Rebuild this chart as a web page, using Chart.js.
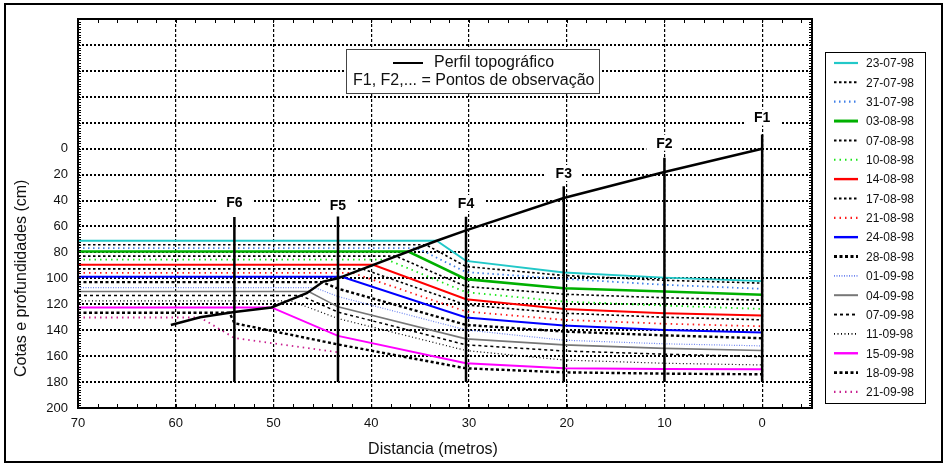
<!DOCTYPE html>
<html>
<head>
<meta charset="utf-8">
<script src="https://cdn.jsdelivr.net/npm/chart.js@4.4.0/dist/chart.umd.min.js"></script>
<style>
  body { margin: 0; background: #fff; }
</style>
</head>
<body>
<canvas id="grafico" width="947" height="465"></canvas>
<script>
// datas das medições
const datas = ['23-07-98', '27-07-98', '31-07-98', '03-08-98', '07-08-98', '10-08-98', '14-08-98', '17-08-98', '21-08-98',
  '24-08-98', '28-08-98', '01-09-98', '04-09-98', '07-09-98', '11-09-98', '15-09-98', '18-09-98', '21-09-98'];

// nível da água à esquerda (cm) e distância onde encontra o perfil (m)
const nivelEsquerda = [71.0, 74.1, 76.7, 79.3, 82.9, 85.5, 89.6, 92.7, 95.8, 98.8, 102.9, 107.1, 110.2, 113.3, 117.4, 122.4, 126.6, 130.2];
const distEncontro = [33.3, 34.4, 35.3, 36.2, 37.5, 38.4, 39.8, 40.9, 41.9, 43.0, 45.0, 45.8, 46.4, 47.2, 48.2, 50.2, 54.5, 57.5];

// profundidades nos pontos de observação (cm)
const nivelF6 = [null, null, null, null, null, null, null, null, null, null, null, null, null, null, null, null, 134.6, 146];
const nivelF5 = [null, null, null, null, null, null, null, null, null, null, 108, 114, 122, 126, 131, 144.4, 151, 157];
const nivelF4 = [86.5, 90.9, 95.2, 100.6, 106.3, 110.7, 116.1, 120.5, 125.6, 130.2, 135.9, 139.8, 146.7, 151.3, 155.7, 165.5, 169.4, null];
const nivelF3 = [95.5, 97.8, 100.4, 107.6, 112.2, 117.9, 123.6, 126.9, 132, 136.4, 141, 147.7, 151.3, 156, 163, 169.4, 172.5, null];
const nivelF2 = [99.5, 101.5, 105, 110.2, 115, 121, 126.9, 130, 135, 139.8, 144, 150.5, 154, 158.5, 165.5, 170, 173.5, null];
const nivelF1 = [102.2, 103.7, 108.1, 112.7, 116.9, 123.6, 128.7, 132, 137, 141.8, 146.2, 152.1, 155.7, 160.4, 166.8, 170.2, 174, null];

// pontos de observação
const pontos = ['F1', 'F2', 'F3', 'F4', 'F5', 'F6'];
const pontosDist = [0, 10, 20.3, 30.3, 43.4, 54];
const pontosTopo = [-11, 7, 29, 52.5, 52.3, 52.7];
const pontosRotulo = [-24, -4.6, 18.8, 41.9, 43.2, 41.5];
const pontosFundo = 180;

// perfil topográfico
const perfilDist = [60.5, 57.5, 54, 50.2, 48.3, 46.6, 44.9, 43.4, 33.3, 30.3, 20.3, 10, 0];
const perfilCota = [136, 130, 126, 122.5, 116.6, 111.5, 102.5, 100, 71, 63, 38, 18, 0];

// eixos
const xTicks = [70, 60, 50, 40, 30, 20, 10, 0];
const yTicks = [0, 20, 40, 60, 80, 100, 120, 140, 160, 180, 200];

const estilos = [
  { cor: '#22c8c8', larg: 1.8, traco: [] },
  { cor: '#000000', larg: 1.6, traco: [2.5, 2.5] },
  { cor: '#3f7fe8', larg: 1.8, traco: [1.5, 3.5] },
  { cor: '#00b000', larg: 2.6, traco: [] },
  { cor: '#000000', larg: 1.6, traco: [2.5, 2.5] },
  { cor: '#19e619', larg: 1.8, traco: [1.5, 4] },
  { cor: '#ff0000', larg: 2, traco: [] },
  { cor: '#000000', larg: 1.6, traco: [2.5, 2.5] },
  { cor: '#ff1a1a', larg: 1.8, traco: [1.5, 4] },
  { cor: '#0000ff', larg: 2, traco: [] },
  { cor: '#000000', larg: 2.4, traco: [3, 2.5] },
  { cor: '#6f86f0', larg: 1.2, traco: [1, 1.5] },
  { cor: '#777777', larg: 1.6, traco: [] },
  { cor: '#000000', larg: 1.5, traco: [3, 3] },
  { cor: '#000000', larg: 1.2, traco: [1, 2.5] },
  { cor: '#ff00ff', larg: 2, traco: [] },
  { cor: '#000000', larg: 2.4, traco: [3, 2.5] },
  { cor: '#c8208f', larg: 1.8, traco: [1.5, 4] }
];

const fonte = '"Liberation Sans", Arial, sans-serif';
const niveisF = [nivelF1, nivelF2, nivelF3, nivelF4, nivelF5, nivelF6];

const series = datas.map((d, i) => {
  const pts = [{ x: 70, y: nivelEsquerda[i] }, { x: distEncontro[i], y: nivelEsquerda[i] }];
  for (let k = 5; k >= 0; k--) {
    if (niveisF[k][i] != null) pts.push({ x: pontosDist[k], y: niveisF[k][i] });
  }
  return {
    label: d,
    data: pts,
    borderColor: estilos[i].cor,
    borderWidth: estilos[i].larg,
    borderDash: estilos[i].traco,
    pointRadius: 0,
    tension: 0
  };
});

const linhasF = pontos.map((p, k) => ({
  label: p,
  data: [{ x: pontosDist[k], y: pontosTopo[k] }, { x: pontosDist[k], y: pontosFundo }],
  borderColor: '#000',
  borderWidth: 2.5,
  pointRadius: 0
}));

const perfil = {
  label: 'Perfil topográfico',
  data: perfilDist.map((x, i) => ({ x: x, y: perfilCota[i] })),
  borderColor: '#000',
  borderWidth: 2.5,
  pointRadius: 0,
  tension: 0
};

const extras = {
  id: 'extras',
  afterDraw(chart) {
    const { ctx, chartArea: a, scales: { x, y } } = chart;
    ctx.save();

    // moldura da área do gráfico
    ctx.strokeStyle = '#000';
    ctx.lineWidth = 2;
    ctx.setLineDash([]);
    ctx.strokeRect(a.left, a.top, a.right - a.left, a.bottom - a.top);

    // marcas secundárias
    ctx.lineWidth = 1;
    ctx.beginPath();
    for (let v = -4; v <= 70; v += 2) {
      const px = Math.round(x.getPixelForValue(v)) + 0.5;
      ctx.moveTo(px, a.bottom); ctx.lineTo(px, a.bottom - 4);
      ctx.moveTo(px, a.top); ctx.lineTo(px, a.top + 4);
    }
    for (let v = -100; v <= 200; v += 2) {
      const py = Math.round(y.getPixelForValue(v)) + 0.5;
      ctx.moveTo(a.left, py); ctx.lineTo(a.left + 3, py);
      ctx.moveTo(a.right, py); ctx.lineTo(a.right - 3, py);
    }
    ctx.stroke();

    // rótulos F1..F6
    ctx.font = 'bold 14px ' + fonte;
    ctx.textAlign = 'center';
    ctx.textBaseline = 'middle';
    pontos.forEach((p, k) => {
      const px = x.getPixelForValue(pontosDist[k]);
      const py = y.getPixelForValue(pontosRotulo[k]);
      ctx.fillStyle = '#fff';
      ctx.fillRect(px - 18, py - 8, 36, 16);
      ctx.fillStyle = '#000';
      ctx.fillText(p, px, py + 1);
    });

    // títulos dos eixos
    ctx.fillStyle = '#111';
    ctx.font = '16px ' + fonte;
    ctx.fillText('Distancia (metros)', 433, 450);
    ctx.save();
    const yc = (y.getPixelForValue(0) + y.getPixelForValue(200)) / 2;
    ctx.translate(22, yc);
    ctx.rotate(-Math.PI / 2);
    ctx.fillText('Cotas e profundidades (cm)', 0, 0);
    ctx.restore();

    // legenda interna
    ctx.fillStyle = '#fff';
    ctx.fillRect(346, 49, 253, 44);
    ctx.strokeStyle = '#444';
    ctx.lineWidth = 1;
    ctx.strokeRect(346.5, 49.5, 253, 44);
    ctx.strokeStyle = '#000';
    ctx.lineWidth = 2;
    ctx.beginPath(); ctx.moveTo(393, 63); ctx.lineTo(423, 63); ctx.stroke();
    ctx.fillStyle = '#111';
    ctx.textAlign = 'left';
    ctx.fillText('Perfil topográfico', 434, 63);
    ctx.fillText('F1, F2,... = Pontos de observação', 353, 81);

    // legenda das datas
    ctx.strokeStyle = '#000';
    ctx.lineWidth = 1;
    ctx.strokeRect(825.5, 52.5, 100, 351);
    ctx.font = '12px ' + fonte;
    series.forEach((s, i) => {
      const ly = 63 + i * 19.35;
      ctx.strokeStyle = s.borderColor;
      ctx.lineWidth = Math.max(s.borderWidth, 1.5) + 0.4;
      ctx.setLineDash(s.borderDash);
      ctx.beginPath(); ctx.moveTo(834, ly); ctx.lineTo(858, ly); ctx.stroke();
      ctx.setLineDash([]);
      ctx.fillStyle = '#111';
      ctx.fillText(s.label, 866, ly + 1);
    });

    // moldura exterior
    ctx.strokeStyle = '#000';
    ctx.lineWidth = 2;
    ctx.strokeRect(5, 4, 937, 458);
    ctx.restore();
  }
};

new Chart(document.getElementById('grafico'), {
  type: 'line',
  data: { datasets: [perfil, ...linhasF, ...series] },
  options: {
    responsive: false,
    animation: false,
    layout: { padding: { left: 0, top: 19, right: 135, bottom: 0 } },
    plugins: { legend: { display: false }, tooltip: { enabled: false } },
    scales: {
      x: {
        type: 'linear',
        reverse: true,
        min: -5.1,
        max: 70,
        afterFit: s => { s.height = 57; },
        afterBuildTicks: s => { s.ticks = xTicks.map(v => ({ value: v })); },
        ticks: { padding: 8, color: '#111', font: { family: fonte, size: 13 }, maxRotation: 0 },
        grid: { color: '#000', lineWidth: 1.2, drawTicks: false },
        border: { display: false, dash: [3, 2] }
      },
      y: {
        type: 'linear',
        reverse: true,
        min: -100,
        max: 200,
        afterFit: s => { s.width = 78; },
        ticks: {
          stepSize: 20,
          padding: 10,
          color: '#111',
          font: { family: fonte, size: 13 },
          callback: v => (yTicks.includes(v) ? v : '')
        },
        grid: { color: '#000', lineWidth: 2, drawTicks: false },
        border: { display: false, dash: [2, 2] }
      }
    }
  },
  plugins: [extras]
});
</script>
</body>
</html>
